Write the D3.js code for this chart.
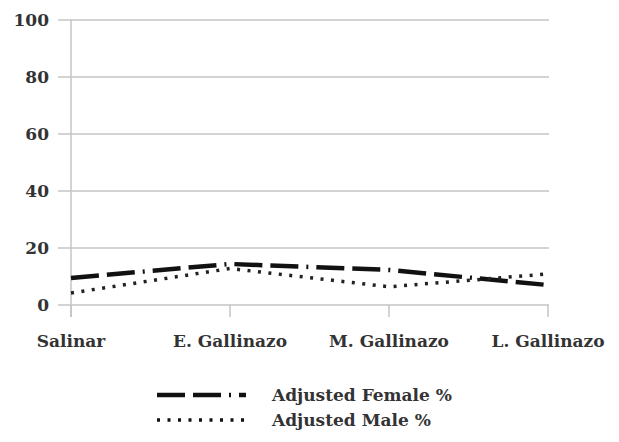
<!DOCTYPE html>
<html><head><meta charset="utf-8">
<script src="https://cdn.jsdelivr.net/npm/d3@7"></script>
<style>body{margin:0;background:#fff}svg{display:block}</style>
</head><body><svg id="c" width="619" height="442"></svg>
<script>
const categories = ["Salinar", "E. Gallinazo", "M. Gallinazo", "L. Gallinazo"];
const femaleValues = [9.5, 14.4, 12.3, 7.0];
const maleValues = [4.2, 12.8, 6.4, 10.9];
const yTicks = [0, 20, 40, 60, 80, 100];
const seriesNames = ["Adjusted Female %", "Adjusted Male %"];

const FONT = "'DejaVu Serif', serif";
const svg = d3.select("#c");
const x = d3.scalePoint().domain(categories).range([71, 548]);
const y = d3.scaleLinear().domain([0, 100]).range([305, 20]);
const grid = "#c4c4c4";

svg.append("g").selectAll("line").data(yTicks).join("line")
  .attr("x1", 58).attr("x2", 549)
  .attr("y1", d => y(d)).attr("y2", d => y(d))
  .attr("stroke", grid).attr("stroke-width", 1.5);
svg.append("line").attr("x1", 71).attr("x2", 71).attr("y1", y(100)).attr("y2", 317)
  .attr("stroke", grid).attr("stroke-width", 1.5);
svg.append("g").selectAll("line").data(categories).join("line")
  .attr("x1", d => x(d)).attr("x2", d => x(d)).attr("y1", y(0)).attr("y2", 317)
  .attr("stroke", grid).attr("stroke-width", 1.5);

svg.append("g").selectAll("text").data(yTicks).join("text")
  .attr("x", 49).attr("y", d => y(d)).attr("dy", "0.35em")
  .attr("text-anchor", "end").attr("font-size", 17).attr("font-weight", "bold")
  .attr("font-family", FONT).attr("fill", "#333")
  .text(d => d);
svg.append("g").selectAll("text").data(categories).join("text")
  .attr("x", d => x(d)).attr("y", 347)
  .attr("text-anchor", "middle").attr("font-size", 17).attr("font-weight", "bold")
  .attr("font-family", FONT).attr("fill", "#333")
  .text(d => d);

const line = d3.line().x((d, i) => x(categories[i])).y(d => y(d));
const styles = [
  {dash: "28,8,28,8,2,8", w: 4.5},
  {dash: "3,7.5", w: 3.5}
];
svg.append("path").datum(femaleValues).attr("d", line)
  .attr("fill", "none").attr("stroke", "#111").attr("stroke-width", styles[0].w)
  .attr("stroke-dasharray", styles[0].dash);
svg.append("path").datum(maleValues).attr("d", line)
  .attr("fill", "none").attr("stroke", "#222").attr("stroke-width", styles[1].w)
  .attr("stroke-dasharray", styles[1].dash);

const lg = svg.append("g");
seriesNames.forEach((name, i) => {
  const yy = 395 + i * 25;
  lg.append("line").attr("x1", 157).attr("x2", 246).attr("y1", yy).attr("y2", yy)
    .attr("stroke", "#111").attr("stroke-width", styles[i].w)
    .attr("stroke-dasharray", styles[i].dash);
  lg.append("text").attr("x", 272).attr("y", yy).attr("dy", "0.35em")
    .attr("font-size", 17).attr("font-weight", "bold")
    .attr("font-family", FONT).attr("fill", "#333").text(name);
});
</script></body></html>
